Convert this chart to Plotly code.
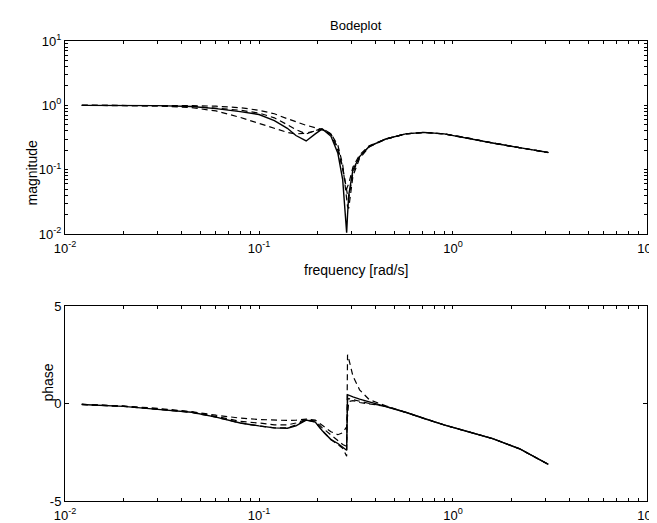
import plotly.graph_objects as go

# frequency grid (rad/s)
freq = [0.0122, 0.02, 0.03, 0.045, 0.06, 0.08, 0.1, 0.12, 0.14, 0.155, 0.175, 0.195,
        0.212, 0.235, 0.255, 0.27, 0.283, 0.286, 0.29, 0.305, 0.33, 0.37, 0.45, 0.57,
        0.71, 0.9, 1.2, 1.6, 2.2, 3.1]

# magnitude: solid (nominal) and three dashed curves
mag_solid = [1.0, 1.0, 0.99, 0.96, 0.89, 0.80, 0.72, 0.58, 0.44, 0.34, 0.28, 0.36,
             0.43, 0.33, 0.18, 0.07, 0.0105, 0.02, 0.04, 0.10, 0.16, 0.23, 0.30, 0.36,
             0.38, 0.36, 0.31, 0.26, 0.22, 0.185]
mag_dash1 = [1.0, 1.0, 1.0, 0.99, 0.97, 0.92, 0.84, 0.74, 0.62, 0.55, 0.49, 0.45,
             0.42, 0.36, 0.22, 0.11, 0.045, 0.04, 0.035, 0.09, 0.16, 0.23, 0.30, 0.36,
             0.38, 0.36, 0.31, 0.26, 0.22, 0.185]
mag_dash2 = [1.0, 1.0, 0.98, 0.92, 0.82, 0.65, 0.52, 0.44, 0.38, 0.36, 0.37, 0.40,
             0.42, 0.35, 0.20, 0.10, 0.05, 0.055, 0.06, 0.11, 0.17, 0.235, 0.30, 0.36,
             0.38, 0.36, 0.31, 0.26, 0.22, 0.185]
mag_dash3 = [1.0, 1.0, 0.99, 0.97, 0.91, 0.84, 0.76, 0.64, 0.50, 0.42, 0.36, 0.40,
             0.44, 0.36, 0.24, 0.12, 0.03, 0.027, 0.025, 0.08, 0.15, 0.225, 0.30, 0.36,
             0.38, 0.36, 0.31, 0.26, 0.22, 0.185]

# phase: solid and three dashed curves
ph_solid = [-0.05, -0.15, -0.30, -0.45, -0.70, -1.00, -1.15, -1.25, -1.27, -1.15, -0.85, -0.95,
            -1.40, -1.85, -2.05, -2.25, -2.40, 0.45, 0.42, 0.34, 0.22, 0.08, -0.15, -0.45,
            -0.77, -1.10, -1.45, -1.80, -2.32, -3.12]
ph_dash1 = [-0.05, -0.13, -0.25, -0.42, -0.60, -0.75, -0.82, -0.86, -0.87, -0.86, -0.80, -0.85,
            -1.10, -1.45, -1.60, -1.50, -1.20, -0.50, 0.10, 0.15, 0.05, -0.02, -0.15, -0.45,
            -0.77, -1.10, -1.45, -1.80, -2.32, -3.12]
ph_dash2 = [-0.05, -0.15, -0.30, -0.46, -0.70, -1.00, -1.15, -1.25, -1.25, -1.10, -0.85, -0.95,
            -1.40, -1.85, -2.10, -2.30, -2.70, 2.50, 2.30, 1.40, 0.70, 0.20, -0.12, -0.45,
            -0.77, -1.10, -1.45, -1.80, -2.32, -3.12]
ph_dash3 = [-0.05, -0.14, -0.28, -0.44, -0.66, -0.92, -1.00, -1.10, -1.10, -1.00, -0.82, -0.90,
            -1.25, -1.60, -1.90, -2.10, -2.20, 0.20, 0.25, 0.20, 0.10, 0.00, -0.15, -0.45,
            -0.77, -1.10, -1.45, -1.80, -2.32, -3.12]

decades = [-2, -1, 0, 1]
decade_labels = ["10<sup>-2</sup>", "10<sup>-1</sup>", "10<sup>0</sup>", "10<sup>1</sup>"]
ph_ticks = [-5, 0, 5]

# log tick positions: decades labelled, 2..9 multiples unlabelled
log_vals, log_text = [], []
for d, lab in zip(decades, decade_labels):
    for m in range(1, 10):
        if d == decades[-1] and m > 1:
            break
        log_vals.append(m * 10.0 ** d)
        log_text.append(lab if m == 1 else "")

FONT = "Liberation Sans, Arial, Helvetica, sans-serif"
W, H = 657, 523
L, R, T, B = 57, 8, 33, 23

fig = go.Figure()

solid = dict(color="black", width=1.4)
dashed = dict(color="black", width=1.2, dash="6px,4px")

for ys, ln in [(mag_dash1, dashed), (mag_dash2, dashed), (mag_dash3, dashed), (mag_solid, solid)]:
    fig.add_trace(go.Scatter(x=freq, y=ys, mode="lines", line=ln, xaxis="x", yaxis="y",
                             showlegend=False, hoverinfo="skip"))
for ys, ln in [(ph_dash1, dashed), (ph_dash2, dashed), (ph_dash3, dashed), (ph_solid, solid)]:
    fig.add_trace(go.Scatter(x=freq, y=ys, mode="lines", line=ln, xaxis="x2", yaxis="y2",
                             showlegend=False, hoverinfo="skip"))

plot_h = H - T - B
top_dom = [(H - B - 229) / plot_h, 1.0]
bot_dom = [0.0, (H - B - 302) / plot_h]

axis_common = dict(showline=True, linecolor="black", linewidth=1, mirror="allticks",
                   ticks="inside", tickcolor="black", showgrid=False,
                   zeroline=False, tickfont=dict(family=FONT, size=13, color="black"),
                   ticklabeloverflow="allow")
log_axis = dict(type="log", range=[-2.0002, 1.0002], tickmode="array", tickvals=log_vals,
                ticktext=log_text, ticklen=3, **axis_common)

fig.update_layout(
    width=W, height=H,
    margin=dict(l=L, r=R, t=T, b=B),
    paper_bgcolor="white", plot_bgcolor="white",
    font=dict(family=FONT, size=13, color="black"),
    xaxis=dict(domain=[0, 1], anchor="y", ticklabelstandoff=2, **log_axis),
    yaxis=dict(domain=top_dom, anchor="x", **log_axis),
    xaxis2=dict(domain=[0, 1], anchor="y2", ticklabelstandoff=2, **log_axis),
    yaxis2=dict(range=[-5, 5], domain=bot_dom, anchor="x2", ticklen=4,
                tickvals=ph_ticks, ticktext=[str(v) for v in ph_ticks], **axis_common),
    annotations=[
        dict(text="Bodeplot", xref="paper", yref="paper", x=0.5, y=1, yanchor="bottom",
             yshift=6, showarrow=False, font=dict(family=FONT, size=13)),
        dict(text="frequency [rad/s]", xref="paper", yref="paper", x=0.5, y=top_dom[0],
             yanchor="top", yshift=-26, showarrow=False, font=dict(family=FONT, size=14)),
        dict(text="magnitude", xref="paper", yref="paper", x=0, xshift=-43,
             y=sum(top_dom) / 2, textangle=-90, showarrow=False,
             font=dict(family=FONT, size=14)),
        dict(text="phase", xref="paper", yref="paper", x=0, xshift=-27,
             y=sum(bot_dom) / 2, textangle=-90, showarrow=False,
             font=dict(family=FONT, size=14)),
    ],
)

fig.write_html("out.html")
